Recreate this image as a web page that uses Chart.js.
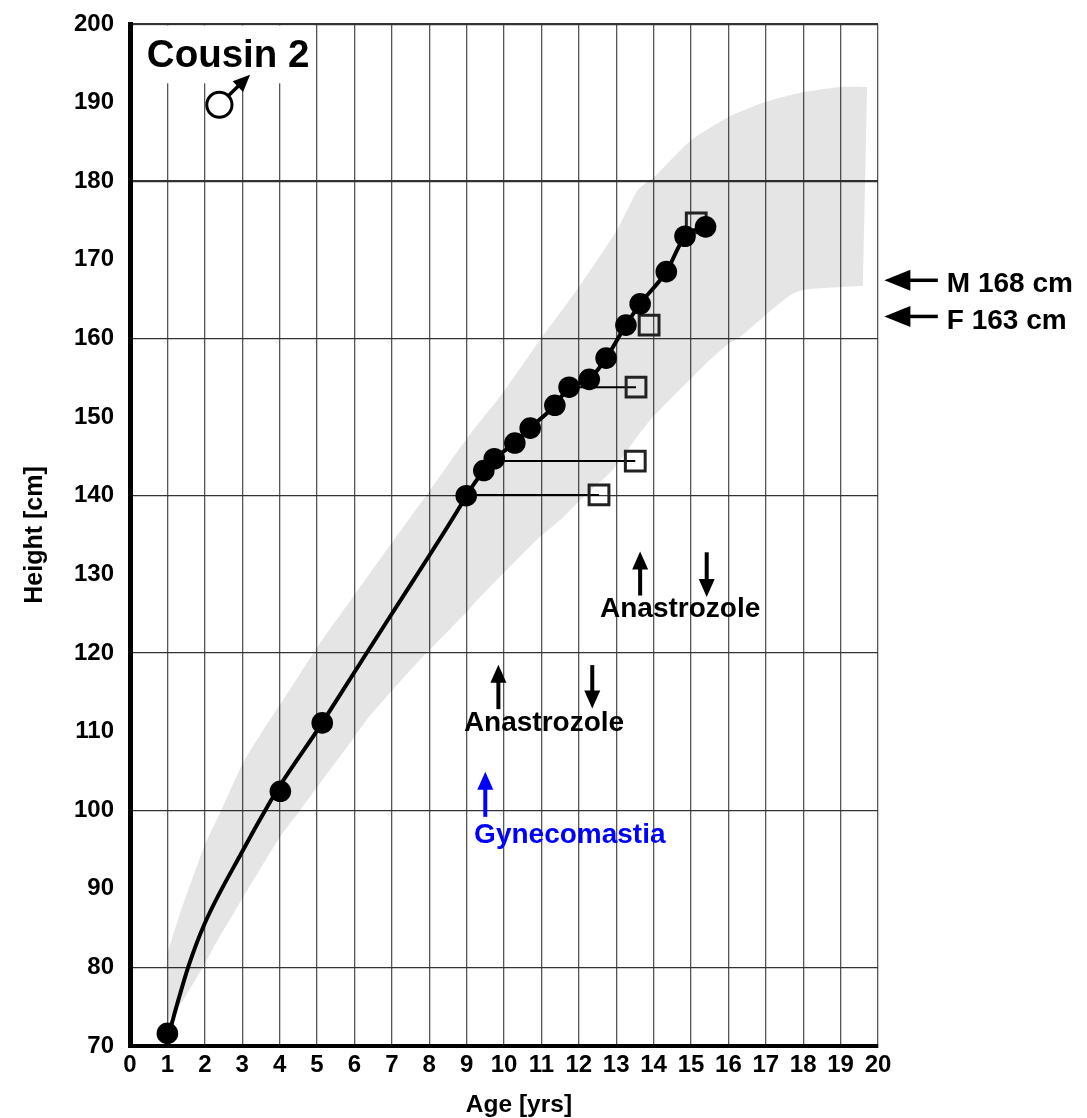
<!DOCTYPE html>
<html>
<head>
<meta charset="utf-8">
<style>html,body{margin:0;padding:0;background:#fff}canvas{display:block}</style>
<script src="https://cdn.jsdelivr.net/npm/chart.js@4/dist/chart.umd.min.js"></script>
</head>
<body>
<canvas id="c" width="1087" height="1118"></canvas>
<script>
const xTicks = [0,1,2,3,4,5,6,7,8,9,10,11,12,13,14,15,16,17,18,19,20];
const yTicks = [70,80,90,100,110,120,130,140,150,160,170,180,190,200];

const bandAges = [1.0,1.0,1.0,1.34,1.98,2.41,3.02,3.56,4.01,4.99,5.96,7.0,8.02,9.04,9.97,10.96,11.98,13.02,13.58,14.01,15.0,16.02,17.0,18.02,19.01,19.71,19.71,
  19.6,19.6,18.02,17.65,17.0,16.31,16.02,15.51,13.98,13.56,12.91,12.03,11.5,10.88,9.36,9.04,7.83,6.95,6.33,5.88,5.0,4.55,4.01,3.02,2.35,1.97,1.42,1.15,1.0];
const bandHeights = [73.0,81.8,81.8,86.9,95.3,99.7,106.0,110.2,113.4,120.6,127.1,134.0,140.7,147.5,153.1,159.8,166.4,173.8,178.9,180.5,185.2,188.2,190.1,191.35,192.0,192.0,192.0,
  166.7,166.7,166.2,165.5,163.0,160.2,159.4,157.3,150.0,147.5,143.3,139.4,136.9,134.4,127.1,125.4,119.5,114.9,111.5,108.5,102.9,100.0,96.6,88.9,83.5,80.2,75.8,74.2,73.0];

const trajectoryAges = [1.05,1.12,1.29,1.56,1.98,3.02,3.69,4.02,5.14,5.35,6.95,8.82,8.99,9.46,9.74,10.29,10.70,11.36,11.74,12.28,12.73,13.26,13.64,14.34,14.84,15.39];
const trajectoryHeights = [71.6,72.9,75.8,80.1,85.4,94.9,100.6,103.2,111.1,112.7,124.6,138.6,140.0,143.2,144.7,146.7,148.6,151.5,153.8,154.8,157.5,161.7,164.4,168.5,173.0,174.2];

const measuredAges = [1.0,4.02,5.14,8.99,9.46,9.74,10.29,10.70,11.36,11.74,12.28,12.73,13.26,13.64,14.34,14.84,15.39];
const measuredHeights = [71.6,102.4,111.1,140.0,143.2,144.7,146.7,148.6,151.5,153.8,154.8,157.5,161.7,164.4,168.5,173.0,174.2];

const boneAges = [12.54,13.51,13.53,13.88,15.14];
const boneHeights = [140.1,144.4,153.8,161.7,174.7];
const connectorStarts = [8.99,9.74,11.74];

const annotationTexts = ["Cousin 2","Anastrozole","Anastrozole","Gynecomastia","M 168 cm","F 163 cm","Age [yrs]"];
const annotationAges = [0.45,14.71,11.07,11.76,21.84,21.84,10.4];
const annotationHeights = [194.57,124.55,110.1,95.8,165.94,161.16,61.6];

const vArrowAges = [13.64,15.42,9.85,12.36,9.5];
const vArrowFrom = [127.3,132.8,112.85,118.45,99.15];
const vArrowTo = [132.9,127.1,118.5,112.94,104.9];
const targetAges = [20.17,20.17];
const targetTailAges = [21.6,21.6];
const targetHeights = [167.4,162.8];

const FONT = '"Liberation Sans", Arial, sans-serif';
const toXY = (xs, ys) => xs.map((x,i)=>({x, y: ys[i]}));

function arrowHead(ctx, x0, y0, x1, y1, len, wid){
  const a = Math.atan2(y1-y0, x1-x0);
  ctx.beginPath();
  ctx.moveTo(x1,y1);
  ctx.lineTo(x1-len*Math.cos(a)+wid/2*Math.sin(a), y1-len*Math.sin(a)-wid/2*Math.cos(a));
  ctx.lineTo(x1-len*Math.cos(a)-wid/2*Math.sin(a), y1-len*Math.sin(a)+wid/2*Math.cos(a));
  ctx.closePath();
  ctx.fill();
}
function arrow(ctx, x0, y0, x1, y1, color, sw, len, wid){
  ctx.strokeStyle = color; ctx.fillStyle = color; ctx.lineWidth = sw;
  const a = Math.atan2(y1-y0, x1-x0);
  ctx.beginPath(); ctx.moveTo(x0,y0);
  ctx.lineTo(x1-(len-1)*Math.cos(a), y1-(len-1)*Math.sin(a)); ctx.stroke();
  arrowHead(ctx,x0,y0,x1,y1,len,wid);
}

const titleMask = {
  id:'titleMask',
  beforeDatasetsDraw(chart){
    const {ctx, scales:{x,y}} = chart;
    ctx.save(); ctx.fillStyle='#fff';
    const l=x.getPixelForValue(0.1), r=x.getPixelForValue(4.95), t=y.getPixelForValue(199.8), b=y.getPixelForValue(192.45);
    ctx.fillRect(l,t,r-l,b-t);
    ctx.restore();
  }
};
const notes = {
  id:'notes',
  afterDatasetsDraw(chart){
    const {ctx, scales:{x,y}} = chart;
    ctx.save();
    vArrowAges.forEach((a,i)=>{
      arrow(ctx,x.getPixelForValue(a),y.getPixelForValue(vArrowFrom[i]),x.getPixelForValue(a),y.getPixelForValue(vArrowTo[i]), i===4?'#0000ff':'#000',4,18,16);
    });
    targetHeights.forEach((h,i)=>{
      arrow(ctx,x.getPixelForValue(targetTailAges[i]),y.getPixelForValue(h),x.getPixelForValue(targetAges[i]),y.getPixelForValue(h),'#000',3.5,26,21);
    });
    // male symbol
    const cx=x.getPixelForValue(2.39), cy=y.getPixelForValue(189.73);
    const tx=x.getPixelForValue(3.21), ty=y.getPixelForValue(193.55);
    arrow(ctx,cx+9,cy-9,tx,ty,'#000',3.5,17,15);
    ctx.beginPath(); ctx.arc(cx,cy,12.6,0,Math.PI*2); ctx.fillStyle='#fff'; ctx.fill();
    ctx.lineWidth=3; ctx.strokeStyle='#000'; ctx.stroke();
    // text
    ctx.textBaseline='alphabetic';
    annotationTexts.forEach((t,i)=>{
      const size = i===0?38.5:(i===6?24.5:28);
      ctx.font = 'bold '+size+'px '+FONT;
      ctx.fillStyle = i===3?'#0000ff':'#000';
      ctx.textAlign = (i===0||i===4||i===5)?'left':'center';
      ctx.fillText(t,x.getPixelForValue(annotationAges[i]),y.getPixelForValue(annotationHeights[i]));
    });
    ctx.restore();
  }
};

const datasets = [
  {label:'Measured height', data:toXY(measuredAges,measuredHeights), showLine:false, pointStyle:'circle', pointRadius:10.8, pointBackgroundColor:'#000', pointBorderWidth:0},
  {label:'Height', data:toXY(trajectoryAges,trajectoryHeights), showLine:true, borderColor:'#000', borderWidth:4, pointRadius:0, cubicInterpolationMode:'monotone', fill:false},
  {label:'Bone age', data:toXY(boneAges,boneHeights), showLine:false, pointStyle:'rect', pointRadius:14, pointBackgroundColor:'transparent', pointBorderColor:'#222', pointBorderWidth:3},
  ...connectorStarts.map((s,i)=>({label:'Bone age link '+(i+1), data:[{x:s,y:boneHeights[i===2?2:i]},{x:boneAges[i===2?2:i],y:boneHeights[i===2?2:i]}], showLine:true, borderColor:'#000', borderWidth:2, pointRadius:0})),
  {label:'Reference range', data:toXY(bandAges,bandHeights), showLine:true, borderWidth:0, borderColor:'transparent', backgroundColor:'rgba(0,0,0,0.1)', pointRadius:0, tension:0.2, fill:'shape'}
];

const noMargins = s => { s.paddingTop=0; s.paddingBottom=0; s.paddingLeft=0; s.paddingRight=0; };

new Chart(document.getElementById('c'),{
  type:'scatter',
  data:{datasets},
  plugins:[titleMask,notes],
  options:{
    responsive:false, animation:false,
    layout:{padding:{top:24,right:209,left:0,bottom:0}},
    plugins:{legend:{display:false},tooltip:{enabled:false},title:{display:false}},
    scales:{
      x:{type:'linear',min:0,max:20,afterFit(s){s.height=72;noMargins(s);},
        afterBuildTicks(s){s.ticks=xTicks.map(v=>({value:v}));},
        grid:{color:'#555',lineWidth:1.3,drawTicks:false},
        border:{color:'#000',width:4},
        ticks:{autoSkip:false,maxRotation:0,padding:5,color:'#000',font:{family:FONT,weight:'bold',size:24}}
      },
      y:{type:'linear',min:70,max:200,afterFit(s){s.width=130;noMargins(s);},
        afterBuildTicks(s){s.ticks=yTicks.map(v=>({value:v}));},
        grid:{drawTicks:false,
          color:c=>c.tick.value%20===0?'#333':'rgba(0,0,0,0)',
          lineWidth:c=>(c.tick.value===180||c.tick.value===200)?2.2:1.3},
        border:{color:'#000',width:5},
        ticks:{autoSkip:false,padding:16,color:'#000',font:{family:FONT,weight:'bold',size:24}},
        title:{display:true,text:'Height [cm]',color:'#000',font:{family:FONT,weight:'bold',size:25},padding:{top:20,bottom:0}}
      }
    }
  }
});
</script>
</body>
</html>
